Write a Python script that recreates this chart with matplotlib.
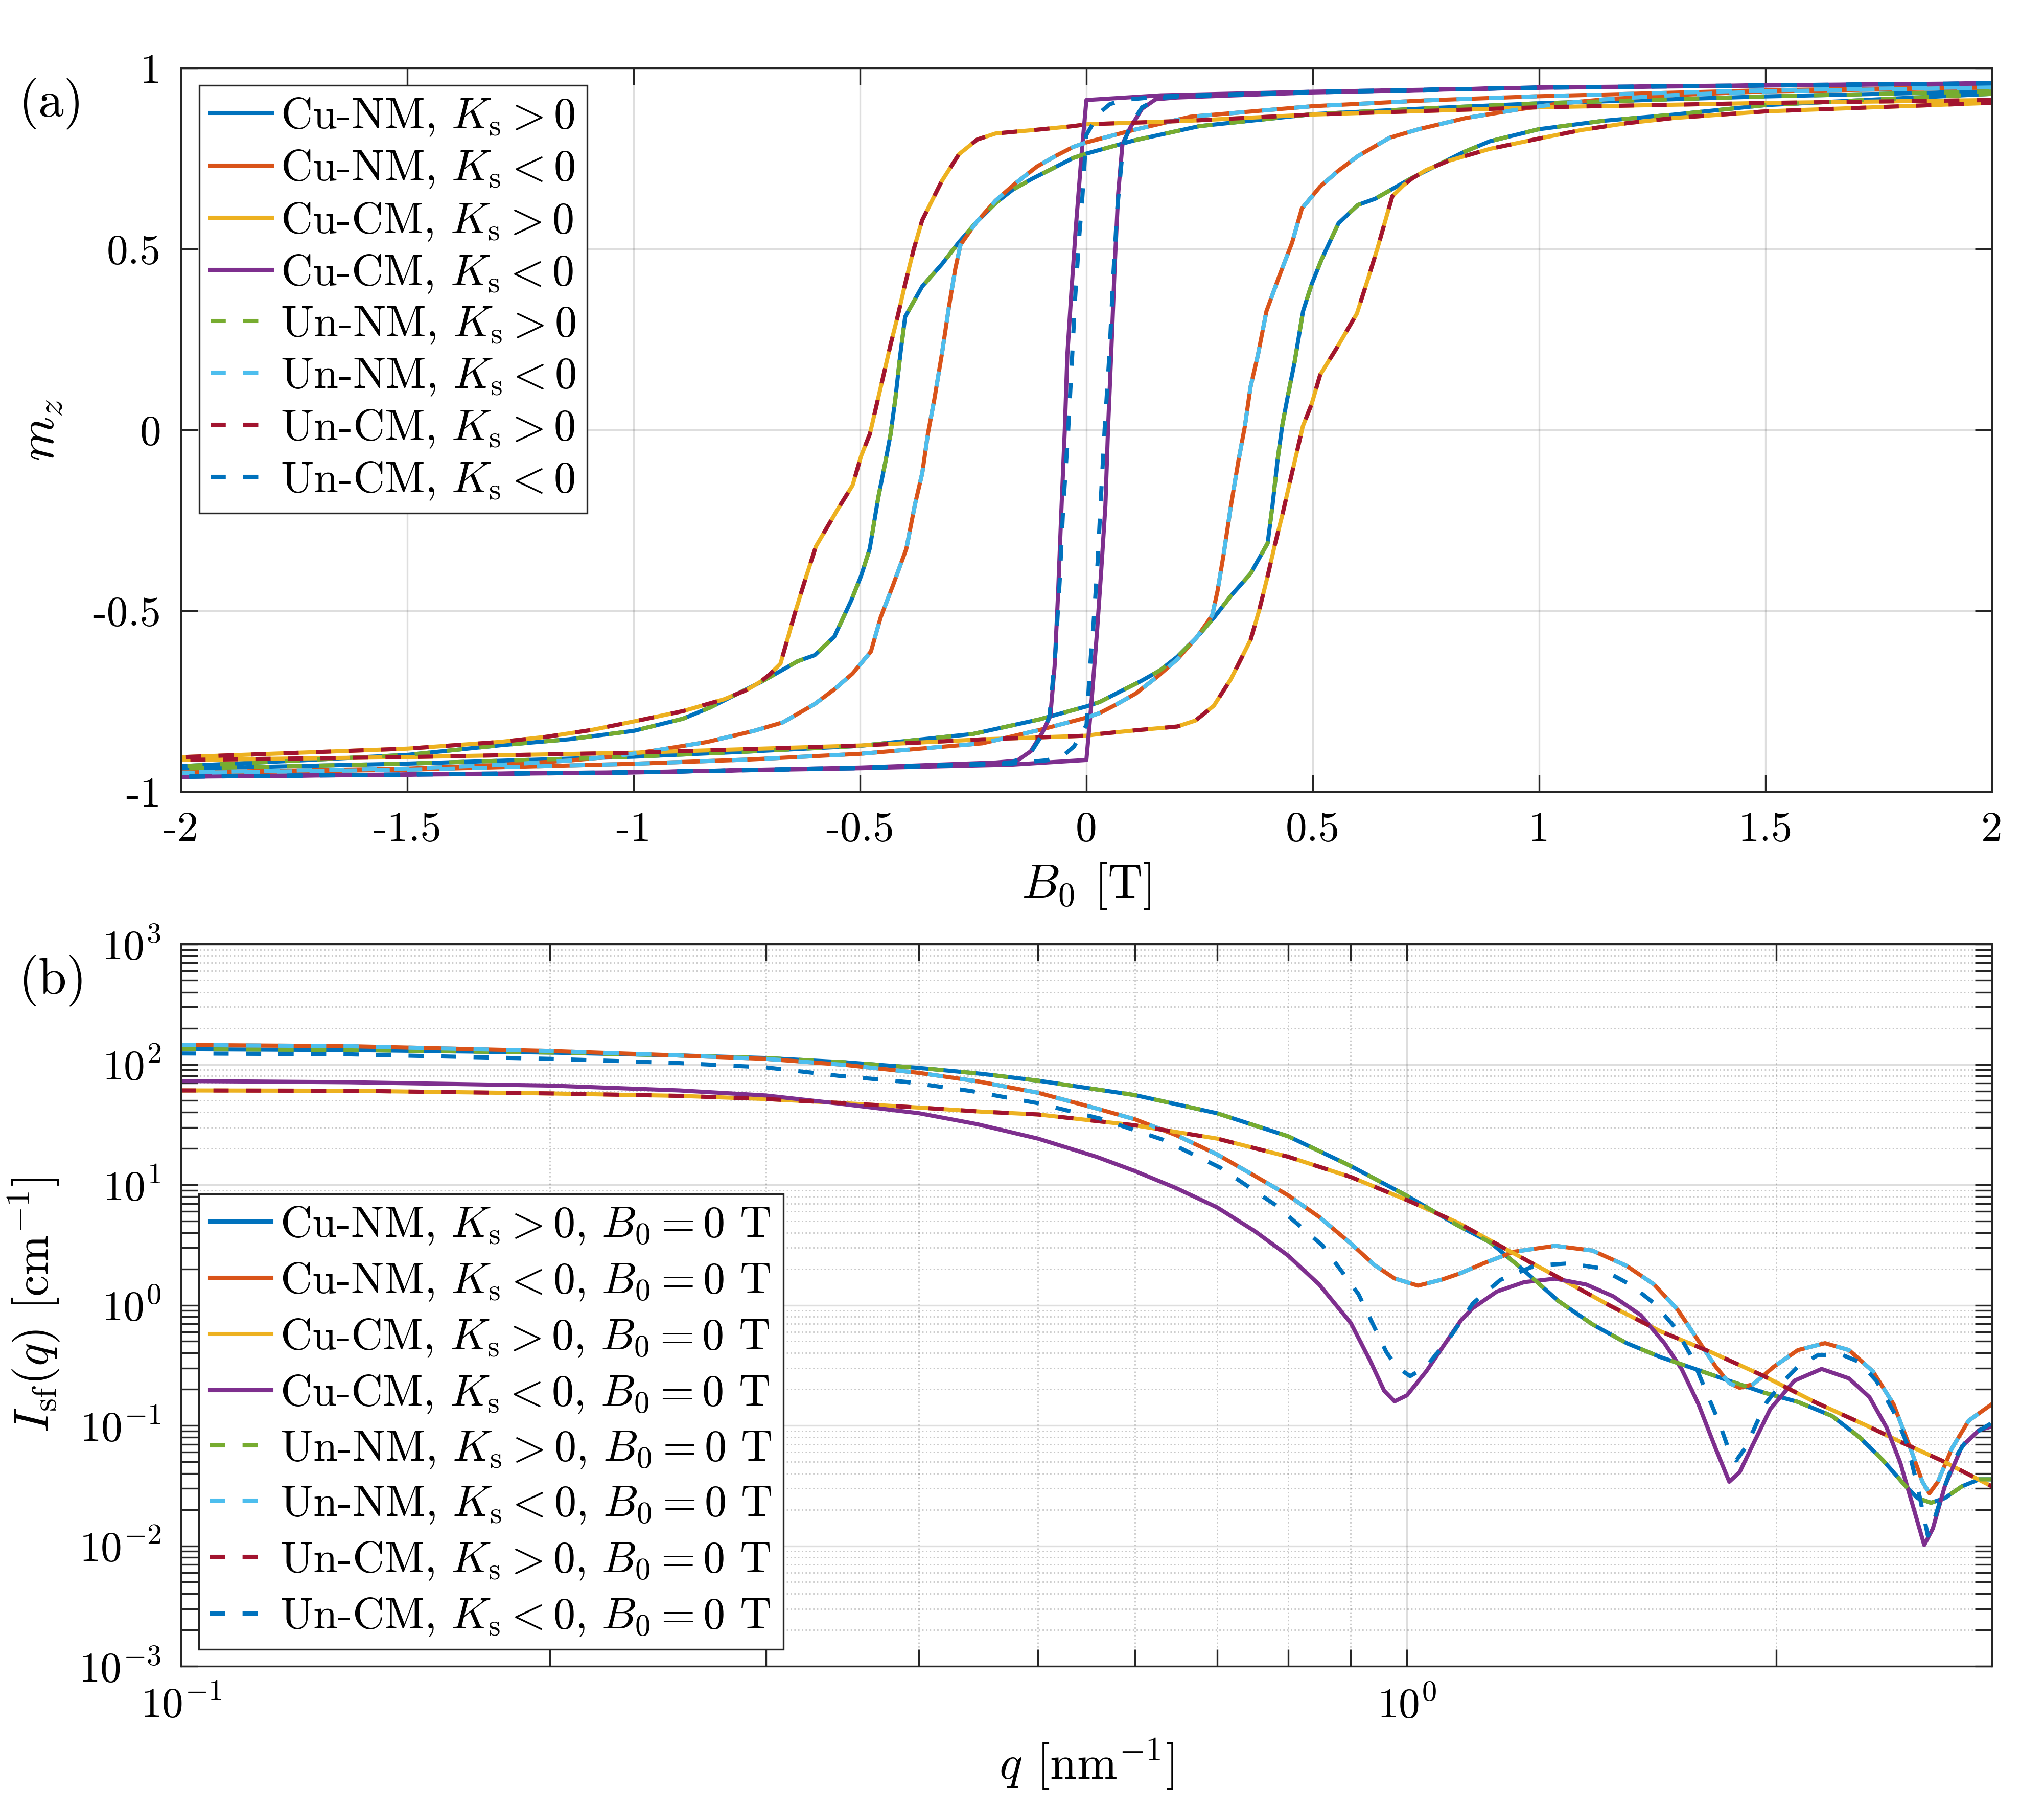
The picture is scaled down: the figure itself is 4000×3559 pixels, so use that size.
import numpy as np
import matplotlib
matplotlib.use('Agg')
import matplotlib.pyplot as plt
from matplotlib.ticker import FixedLocator, FuncFormatter, LogLocator, NullFormatter

plt.rcParams['font.family'] = 'serif'
plt.rcParams['font.serif'] = ['cmr10']
plt.rcParams['mathtext.fontset'] = 'cm'
plt.rcParams['axes.formatter.use_mathtext'] = True
plt.rcParams['axes.unicode_minus'] = False

# MATLAB default colour order
blue = '#0072BD'
orange = '#D95319'
yellow = '#EDB120'
purple = '#7E2F8E'
green = '#77AC30'
lblue = '#4DBEEE'
dred = '#A2142F'

# ---------------- panel (a): descending branches, B from +2 to -2 ----------------
b_nm_pos = [2.0, 1.5, 1.0, 0.75, 0.5, 0.25, 0.104, 0.0, -0.029, -0.0764, -0.1196, -0.1628,
            -0.2006, -0.2438, -0.2816, -0.3194, -0.3626, -0.4003, -0.4111, -0.4219, -0.4327,
            -0.4435, -0.4597, -0.4786, -0.4975, -0.5191, -0.5569, -0.6001, -0.6379, -0.6757,
            -0.719, -0.7674, -0.8322, -0.891, -0.9988, -1.143, -1.294, -1.5, -1.75, -2.0]
m_nm_pos = [0.936, 0.922, 0.903, 0.889, 0.873, 0.840, 0.800, 0.764, 0.752, 0.7217, 0.6946, 0.6642,
            0.627, 0.573, 0.519, 0.458, 0.397, 0.313, 0.208, 0.0866, -0.013,
            -0.0852, -0.1866, -0.3284, -0.4028, -0.4703, -0.5716, -0.6223, -0.6392, -0.6662,
            -0.6966, -0.727, -0.7676, -0.798, -0.8313, -0.8548, -0.8713, -0.898, -0.914, -0.929]

b_nm_neg = [2.0, 1.5, 1.0, 0.75, 0.5, 0.23, 0.10, 0.0, -0.029, -0.0656, -0.109, -0.1574,
            -0.2006, -0.2438, -0.278, -0.2897, -0.3032, -0.3194, -0.3356, -0.350, -0.3625,
            -0.3788, -0.3977, -0.4273, -0.4543, -0.4759, -0.5164, -0.5569, -0.6001, -0.6703,
            -0.735, -0.8376, -0.951, -1.042, -1.143, -1.294, -1.5, -2.0]
m_nm_neg = [0.948, 0.939, 0.9225, 0.911, 0.895, 0.866, 0.828, 0.795, 0.7825, 0.759, 0.7284, 0.681,
            0.634, 0.573, 0.512, 0.4447, 0.3433, 0.2082, 0.0866, -0.01, -0.119,
            -0.2069, -0.3284, -0.4298, -0.5176, -0.6122, -0.673, -0.717, -0.7574, -0.8081,
            -0.8318, -0.8622, -0.8855, -0.902, -0.9137, -0.9255, -0.9358, -0.9467]

b_cm_pos = [2.0, 1.5, 1.0, 0.5, 0.23, 0.0, -0.029, -0.109, -0.2006, -0.241, -0.2816, -0.3194,
            -0.3626, -0.3815, -0.4003, -0.4165, -0.4327, -0.4489, -0.4651, -0.478, -0.4975,
            -0.5164, -0.5515, -0.5974, -0.6217, -0.6433, -0.6757, -0.700, -0.719, -0.750,
            -0.800, -0.891, -0.9988, -1.0925, -1.193, -1.294, -1.5, -2.0]
m_cm_pos = [0.912, 0.904, 0.892, 0.872, 0.855, 0.845, 0.840, 0.830, 0.8196, 0.803, 0.762, 0.688,
            0.580, 0.499, 0.404, 0.316, 0.235, 0.147, 0.060, -0.01, -0.0717,
            -0.1528, -0.2237, -0.3217, -0.4163, -0.504, -0.646, -0.676, -0.695, -0.7183,
            -0.7442, -0.777, -0.8054, -0.829, -0.848, -0.862, -0.8807, -0.9043]

b_cm_neg_cu = [2.0, 1.5, 1.0, 0.5, 0.165, 0.0, -0.010, -0.0232, -0.0326, -0.0420, -0.0477,
               -0.0552, -0.0627, -0.0702, -0.0796, -0.0966, -0.1229, -0.153, -0.2, -0.5,
               -1.0, -1.5, -2.0]
m_cm_neg_cu = [0.958, 0.952, 0.946, 0.935, 0.925, 0.912, 0.771, 0.562, 0.392, 0.209, 0.0,
               -0.222, -0.457, -0.653, -0.790, -0.835, -0.888, -0.914, -0.919, -0.933,
               -0.9467, -0.9528, -0.9584]

b_cm_neg_un = [2.0, 1.5, 1.0, 0.5, 0.165, 0.124, 0.088, 0.0522, 0.0275, -0.0003, -0.0049,
               -0.0098, -0.0154, -0.0248, -0.0323, -0.0402, -0.0515, -0.059, -0.0684, -0.076,
               -0.0815, -0.0966, -0.1229, -0.1628, -0.2, -0.5, -1.0, -1.5, -2.0]
m_cm_neg_un = [0.958, 0.952, 0.946, 0.935, 0.922, 0.917, 0.913, 0.901, 0.875, 0.815, 0.718,
               0.627, 0.541, 0.366, 0.183, 0.0, -0.222, -0.418, -0.614, -0.718,
               -0.790, -0.840, -0.892, -0.918, -0.921, -0.933, -0.9467, -0.9528, -0.9584]

labels_a = ['Cu-NM, $K_\\mathrm{s} > 0$', 'Cu-NM, $K_\\mathrm{s} < 0$',
            'Cu-CM, $K_\\mathrm{s} > 0$', 'Cu-CM, $K_\\mathrm{s} < 0$',
            'Un-NM, $K_\\mathrm{s} > 0$', 'Un-NM, $K_\\mathrm{s} < 0$',
            'Un-CM, $K_\\mathrm{s} > 0$', 'Un-CM, $K_\\mathrm{s} < 0$']

# ---------------- panel (b): spin-flip SANS cross sections at B0 = 0 ----------------
q_nm_pos = [0.10, 0.137, 0.20, 0.255, 0.30, 0.348, 0.40, 0.45, 0.50, 0.60, 0.70, 0.80, 0.90,
            1.0, 1.1, 1.169, 1.246, 1.329, 1.417, 1.511, 1.611, 1.718, 1.832, 1.954, 2.084,
            2.222, 2.339, 2.446, 2.542, 2.609, 2.676, 2.746, 2.836, 2.929, 3.0]
i_nm_pos = [133.9, 131.7, 125.4, 118.7, 113.0, 104.2, 93.5, 83.5, 73.3, 55.6, 39.3, 25.3, 14.3,
            8.1, 4.6, 3.33, 1.94, 1.083, 0.692, 0.483, 0.369, 0.295, 0.235, 0.188, 0.157,
            0.120, 0.080, 0.0512, 0.0327, 0.0249, 0.0228, 0.0249, 0.0312, 0.0357, 0.0357]

q_nm_neg = [0.10, 0.137, 0.20, 0.255, 0.30, 0.348, 0.40, 0.446, 0.50, 0.558, 0.60, 0.648, 0.70,
            0.752, 0.80, 0.848, 0.90, 0.941, 0.977, 1.021, 1.068, 1.107, 1.154, 1.223, 1.321,
            1.417, 1.511, 1.591, 1.664, 1.729, 1.786, 1.832, 1.868, 1.916, 1.992, 2.084, 2.193,
            2.294, 2.399, 2.494, 2.575, 2.633, 2.668, 2.711, 2.782, 2.872, 3.0]
i_nm_neg = [145.2, 141.9, 129.4, 118.6, 111.2, 99.1, 85.0, 72.5, 58.2, 43.1, 35.0, 25.9, 17.9,
            11.8, 8.18, 5.41, 3.25, 2.15, 1.667, 1.452, 1.63, 1.85, 2.22, 2.78, 3.11,
            2.84, 2.12, 1.483, 0.906, 0.505, 0.308, 0.225, 0.2056, 0.220, 0.308, 0.423, 0.483,
            0.423, 0.282, 0.1504, 0.0641, 0.0341, 0.0273, 0.0341, 0.0641, 0.1097, 0.1504]

q_cm_pos = [0.10, 0.137, 0.20, 0.255, 0.30, 0.348, 0.40, 0.45, 0.50, 0.60, 0.70, 0.80, 0.90,
            1.0, 1.1, 1.215, 1.329, 1.464, 1.611, 1.774, 1.954, 2.150, 2.369, 2.526, 2.729, 3.0]
i_cm_pos = [60.8, 60.4, 57.4, 54.8, 51.6, 47.6, 43.8, 40.5, 38.4, 31.2, 24.2, 17.1, 11.6,
            7.47, 4.85, 2.78, 1.70, 0.991, 0.604, 0.403, 0.258, 0.157, 0.1002, 0.0732, 0.0512,
            0.0312]

q_cm_neg_cu = [0.10, 0.137, 0.20, 0.255, 0.30, 0.344, 0.40, 0.446, 0.50, 0.558, 0.60, 0.648,
               0.70, 0.752, 0.80, 0.848, 0.90, 0.934, 0.958, 0.977, 1.0, 1.037, 1.076, 1.107,
               1.132, 1.184, 1.246, 1.321, 1.400, 1.473, 1.551, 1.622, 1.675, 1.729, 1.786,
               1.832, 1.868, 1.916, 1.979, 2.070, 2.179, 2.294, 2.384, 2.462, 2.526, 2.592,
               2.642, 2.685, 2.746, 2.836, 2.929, 3.0]
i_cm_neg_cu = [72.8, 71.1, 66.7, 60.8, 55.2, 47.3, 39.3, 31.9, 24.2, 17.1, 13.0, 9.40,
               6.50, 4.10, 2.58, 1.485, 0.710, 0.340, 0.195, 0.1585, 0.178, 0.282, 0.491, 0.75,
               0.946, 1.297, 1.552, 1.660, 1.484, 1.185, 0.828, 0.483, 0.295, 0.1504, 0.0641,
               0.0341, 0.0409, 0.070, 0.1374, 0.2354, 0.295, 0.246, 0.1718, 0.0959, 0.0490, 0.0199,
               0.01016, 0.0139, 0.0312, 0.067, 0.0917, 0.0982]

q_cm_neg_un = [0.10, 0.137, 0.20, 0.255, 0.30, 0.344, 0.390, 0.441, 0.499, 0.562, 0.633, 0.704,
               0.781, 0.854, 0.913, 0.962, 0.980, 1.006, 1.037, 1.084, 1.132, 1.192, 1.271,
               1.355, 1.436, 1.521, 1.591, 1.653, 1.708, 1.752, 1.798, 1.832, 1.856, 1.892,
               1.929, 1.966, 2.030, 2.084, 2.165, 2.265, 2.339, 2.415, 2.494, 2.559, 2.609,
               2.660, 2.693, 2.746, 2.799, 2.872, 3.0]
i_cm_neg_un = [123.3, 121.3, 111.2, 102.6, 94.4, 80.4, 71.6, 60.1, 47.8, 35.5, 23.6, 13.9,
               6.81, 3.11, 1.235, 0.408, 0.309, 0.257, 0.309, 0.538, 1.036, 1.622, 2.125,
               2.222, 2.032, 1.483, 1.036, 0.660, 0.369, 0.197, 0.105, 0.0612, 0.0512, 0.067,
               0.105, 0.157, 0.235, 0.308, 0.386, 0.386, 0.337, 0.235, 0.131, 0.070, 0.0312,
               0.01216, 0.01667, 0.0312, 0.0536, 0.0802, 0.105]

labels_b = [s + ', $B_0 = 0$ T' for s in labels_a]


def full_loop(b_desc, m_desc):
    """Descending branch followed by its point-mirrored ascending branch."""
    b = np.array(b_desc)
    m = np.array(m_desc)
    return np.concatenate([b, -b]), np.concatenate([m, -m])


lw = 1.45
dash = (0, (3.7, 4.2))
axcol = '#262626'

fig = plt.figure(figsize=(10, 8.8975), dpi=400)
ax1 = fig.add_axes([0.0885, 0.5647, 0.886, 0.3978])
ax2 = fig.add_axes([0.0885, 0.0840, 0.886, 0.3970])

curves_a = [(b_nm_pos, m_nm_pos, blue, '-'),
            (b_nm_neg, m_nm_neg, orange, '-'),
            (b_cm_pos, m_cm_pos, yellow, '-'),
            (b_cm_neg_cu, m_cm_neg_cu, purple, '-'),
            (b_nm_pos, m_nm_pos, green, dash),
            (b_nm_neg, m_nm_neg, lblue, dash),
            (b_cm_pos, m_cm_pos, dred, dash),
            (b_cm_neg_un, m_cm_neg_un, blue, dash)]
for (bd, md, c, ls), lab in zip(curves_a, labels_a):
    bb, mm = full_loop(bd, md)
    ax1.plot(bb, mm, color=c, ls=ls, lw=lw, label=lab)

curves_b = [(q_nm_pos, i_nm_pos, blue, '-'),
            (q_nm_neg, i_nm_neg, orange, '-'),
            (q_cm_pos, i_cm_pos, yellow, '-'),
            (q_cm_neg_cu, i_cm_neg_cu, purple, '-'),
            (q_nm_pos, i_nm_pos, green, dash),
            (q_nm_neg, i_nm_neg, lblue, dash),
            (q_cm_pos, i_cm_pos, dred, dash),
            (q_cm_neg_un, i_cm_neg_un, blue, dash)]
for (qq, ii, c, ls), lab in zip(curves_b, labels_b):
    ax2.plot(qq, ii, color=c, ls=ls, lw=lw, label=lab)

# axes (a)
ax1.set_xlim(-2, 2)
ax1.set_ylim(-1, 1)
ax1.xaxis.set_major_locator(FixedLocator(np.arange(-2, 2.01, 0.5)))
ax1.yaxis.set_major_locator(FixedLocator([-1, -0.5, 0, 0.5, 1]))
fmt = FuncFormatter(lambda v, p: '%g' % v)
ax1.xaxis.set_major_formatter(fmt)
ax1.yaxis.set_major_formatter(fmt)
ax1.set_xlabel('$B_0$ [T]', fontsize=17, labelpad=4)
ax1.set_ylabel('$m_z$', fontsize=18, labelpad=10)
ax1.grid(True, which='major', color=axcol, alpha=0.15, lw=0.6)

# axes (b)
ax2.set_xscale('log')
ax2.set_yscale('log')
ax2.set_xlim(0.1, 3)
ax2.set_ylim(1e-3, 1e3)
ax2.yaxis.set_major_locator(LogLocator(base=10, numticks=20))
ax2.yaxis.set_minor_locator(LogLocator(base=10, subs=np.arange(2, 10), numticks=20))
ax2.yaxis.set_minor_formatter(NullFormatter())
ax2.xaxis.set_minor_formatter(NullFormatter())
ax2.set_xlabel('$q$ [nm$^{-1}$]', fontsize=17, labelpad=4)
ax2.set_ylabel('$I_\\mathrm{sf}(q)$ [cm$^{-1}$]', fontsize=17, labelpad=6)
ax2.grid(True, which='major', color=axcol, alpha=0.15, lw=0.6)
ax2.grid(True, which='minor', color=axcol, alpha=0.25, lw=0.5, ls=':')

for ax in (ax1, ax2):
    ax.set_axisbelow(True)
    for s in ax.spines.values():
        s.set_color(axcol)
        s.set_linewidth(0.6)
    ax.tick_params(which='both', direction='in', top=True, right=True, length=6,
                   width=0.6, color=axcol, labelsize=15, pad=7)

leg_kw = dict(frameon=True, fancybox=False, framealpha=1, edgecolor=axcol,
              fontsize=15.5, handlelength=1.4, handletextpad=0.2,
              borderpad=0.25, borderaxespad=0)
l1 = ax1.legend(loc='upper left', bbox_to_anchor=(0.0102, 0.9763), labelspacing=0.24, **leg_kw)
l2 = ax2.legend(loc='lower left', bbox_to_anchor=(0.0099, 0.0234), labelspacing=0.33, **leg_kw)
for l in (l1, l2):
    l.get_frame().set_linewidth(0.6)

fig.text(0.025, 0.943, '(a)', fontsize=18, ha='center', va='center')
fig.text(0.0258, 0.461, '(b)', fontsize=18, ha='center', va='center')

fig.savefig('out.png', dpi=400)
